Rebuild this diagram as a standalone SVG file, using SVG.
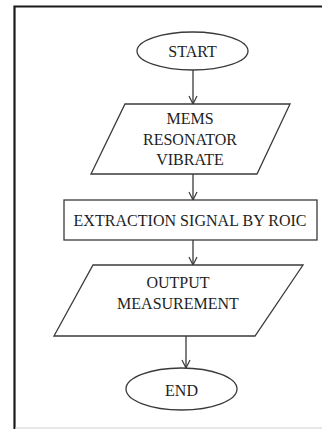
<svg xmlns="http://www.w3.org/2000/svg" width="322" height="429" viewBox="0 0 322 429">
<defs>
<marker id="arr" viewBox="0 0 10 10" refX="9" refY="5" markerWidth="10" markerHeight="10" markerUnits="userSpaceOnUse" orient="auto">
<path d="M1,1 L9,5 L1,9" fill="none" stroke="#3a3a3a" stroke-width="1.2"/>
</marker>
<style>
.shape{fill:#fff;stroke:#3a3a3a;stroke-width:1.3}
.t{font-family:"Liberation Serif","Times New Roman",serif;font-size:16px;fill:#1e1e1e;text-anchor:middle}
.c{stroke:#3a3a3a;stroke-width:1.3;fill:none}
</style>
</defs>
<rect width="322" height="429" fill="#fff"/>
<g id="frame">
<path d="M14.5,429 V6.5 H322" fill="none" stroke="#1a1a1a" stroke-width="2.2"/>
<line x1="15" y1="428" x2="322" y2="428" stroke="#d0d0d0" stroke-width="1"/>
</g>
<g id="connectors">
<line class="c" x1="193" y1="70" x2="193" y2="104" marker-end="url(#arr)"/>
<line class="c" x1="193" y1="174" x2="193" y2="200" marker-end="url(#arr)"/>
<line class="c" x1="193" y1="240" x2="193" y2="265" marker-end="url(#arr)"/>
<line class="c" x1="186" y1="336" x2="186" y2="368" marker-end="url(#arr)"/>
</g>
<g id="start">
<ellipse class="shape" cx="192.5" cy="51" rx="55.5" ry="19"/>
<text class="t" x="192.5" y="56.5">START</text>
</g>
<g id="mems">
<polygon class="shape" points="125,104 290,104 257,174 91,174"/>
<text class="t" x="190" y="124">MEMS</text>
<text class="t" x="190" y="145">RESONATOR</text>
<text class="t" x="190" y="165">VIBRATE</text>
</g>
<g id="extraction">
<rect class="shape" x="64" y="200" width="253" height="40"/>
<text class="t" x="190" y="226" textLength="233" lengthAdjust="spacing">EXTRACTION SIGNAL BY ROIC</text>
</g>
<g id="output">
<polygon class="shape" points="93,265 303,265 255,336 54,336"/>
<text class="t" x="178" y="288">OUTPUT</text>
<text class="t" x="178" y="309">MEASUREMENT</text>
</g>
<g id="end">
<ellipse class="shape" cx="181.5" cy="389" rx="55.5" ry="21"/>
<text class="t" x="181.5" y="395.5">END</text>
</g>
</svg>
